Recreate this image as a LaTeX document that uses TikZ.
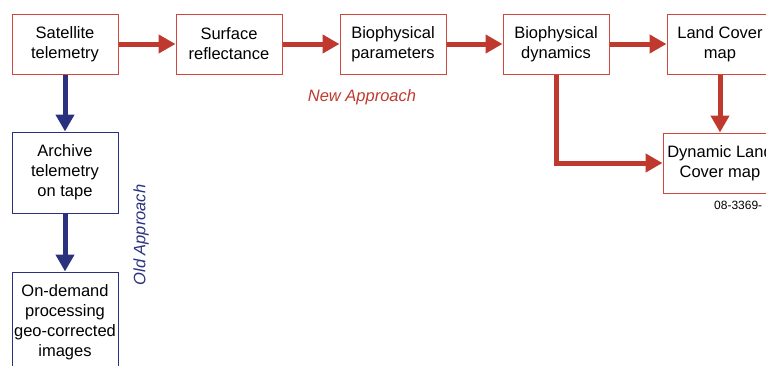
\documentclass[tikz,border=0pt]{standalone}
\usepackage{fontspec}
\setmainfont{Liberation Sans}
\usepackage{tikz}
\usetikzlibrary{arrows.meta}

\definecolor{newred}{RGB}{192,57,47}
\definecolor{boxred}{RGB}{206,72,62}
\definecolor{oldblue}{RGB}{42,50,128}

\tikzset{
  redbox/.style={draw=boxred, line width=1pt, fill=white, minimum width=106pt, minimum height=60pt, inner sep=0pt, align=center, font=\fontsize{16.5}{20}\selectfont},
  bluebox/.style={redbox, draw=oldblue},
  redarr/.style={draw=newred, line width=5pt, {Triangle[length=17pt,width=18pt]}-},
  bluearr/.style={redarr, draw=oldblue},
}

\begin{document}
\begin{tikzpicture}[x=1pt, y=-1pt]
\path[use as bounding box] (0,0) rectangle (766,365);
\clip (0,0) rectangle (766,365);
\node (sat) at (65,44) [redbox] {Satellite\\telemetry};
	\node (refl) at (229,44) [redbox] {Surface\\reflectance}		edge[redarr] (sat);
	\node (bpar) at (393,44) [redbox] {Biophysical\\parameters}		edge[redarr] (refl);
	\node (bdyn) at (556,44) [redbox] {Biophysical\\dynamics}		edge[redarr] (bpar);
	\node (lcmap) at (720,44) [redbox] {Land Cover\\map}		edge[redarr] (bdyn);
		\node (dlcmap) at (720,163) [redbox, minimum width=114pt] {Dynamic Land\\Cover map}		edge[redarr] (lcmap)
			edge[redarr, to path={-| (\tikztotarget)}] (bdyn);
	\node (arch) at (65,172.5) [bluebox, minimum height=81pt] {Archive\\telemetry\\on tape}		edge[bluearr] (sat);
		\node (proc) at (65,322) [bluebox, minimum height=100pt] {On-demand\\processing\\geo-corrected\\images}		edge[bluearr] (arch);
\node (newlbl) at (362,97) [text=newred, font=\fontsize{16.5}{20}\selectfont\itshape] {New Approach};
\node (oldlbl) at (141,235) [rotate=90, text=oldblue, font=\fontsize{16.5}{20}\selectfont\itshape] {Old Approach};
\node (figid) at (714,205) [anchor=west, inner sep=0pt, font=\fontsize{12}{14}\selectfont] {08-3369-};
\end{tikzpicture}
\end{document}
